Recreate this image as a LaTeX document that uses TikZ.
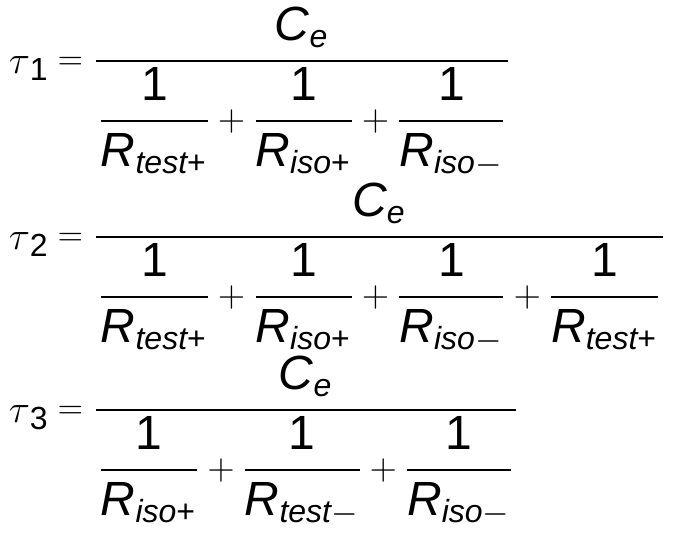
\documentclass[tikz,border=0pt]{standalone}
\usepackage{amsmath}
\usepackage{graphicx}
\usepackage{fontspec}
\setmainfont{Liberation Sans}
\newcommand\Rr[2]{\textit{R}_{\textit{#1}\text{#2}}}
\newcommand\Ce{\textit{C}_{\textit{e}}}
\newcommand\one{\text{1}}
\newcommand\f[1]{\dfrac{\one}{#1}}
\newcommand\pl{\mathbin{\raisebox{0.12ex}{\scalebox{0.75}{$+$}}}}
\newcommand\eqs{\mathrel{\raisebox{0.15ex}{\scalebox{0.7}{$=$}}}}
\newcommand\ta[1]{\mathord{\scalebox{0.82}{$\tau$}}_{\text{#1}}}
\newcommand\myspc{\medmuskip=2mu\relax\thickmuskip=3mu\relax}
\begin{document}
\begin{tikzpicture}[x=1pt,y=1pt,eq/.style={anchor=west,inner sep=0pt,scale=4.0,transform shape,font=\fontsize{12}{14}\selectfont}]
\useasboundingbox (0,0) rectangle (675,533);
\node[eq] (e1) at (8,441) {$\myspc\ta{1}\eqs\dfrac{\Ce}{\f{\Rr{test}{+}}\pl\f{\Rr{iso}{+}}\pl\f{\Rr{iso}{$-$}}}$};
\node[eq] (e2) at (8,265) {$\myspc\ta{2}\eqs\dfrac{\Ce}{\f{\Rr{test}{+}}\pl\f{\Rr{iso}{+}}\pl\f{\Rr{iso}{$-$}}\pl\f{\Rr{test}{+}}}$};
\node[eq] (e3) at (8,92) {$\myspc\ta{3}\eqs\dfrac{\Ce}{\f{\Rr{iso}{+}}\pl\f{\Rr{test}{$-$}}\pl\f{\Rr{iso}{$-$}}}$};
\end{tikzpicture}
\end{document}
